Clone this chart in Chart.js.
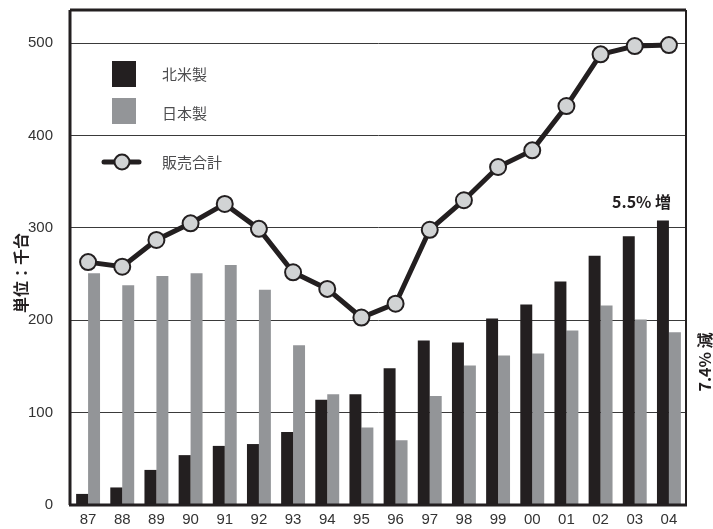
<!doctype html>
<html>
    <head>
        <meta charset="utf-8">
        <title>販売台数</title>
        <script src="https://cdn.jsdelivr.net/npm/chart.js@4.4.1/dist/chart.umd.min.js"></script>
        <style>
            html, body { margin: 0; padding: 0; background: #fff; }
            #wrap { width: 713px; height: 529px; position: relative; }
        </style>
    </head>
    <body>
        <div id="wrap">
            <canvas id="salesChart"></canvas>
        </div>

        <script>
            // years along the bottom
            var years = ['87','88','89','90','91','92','93','94','95','96','97','98','99','00','01','02','03','04'];

            // thousands of units
            var northAmerica = [12, 19, 38, 54, 64, 66, 79, 114, 120, 148, 178, 176, 202, 217, 242, 270, 291, 308];
            var japan = [251, 238, 248, 251, 260, 233, 173, 120, 84, 70, 118, 151, 162, 164, 189, 216, 201, 187];
            var totalSales = [263, 258, 287, 305, 326, 299, 252, 234, 203, 218, 298, 330, 366, 384, 432, 488, 497, 498];

            var seriesNames = ['北米製', '日本製', '販売合計'];
            var yTicks = [0, 100, 200, 300, 400, 500];

            var ink = '#231f20';
            var barGray = '#939598';
            var dotGray = '#d1d3d4';
            var numFont = "'Liberation Sans Narrow', 'Liberation Sans', sans-serif";
            var jpFont = "'Noto Sans CJK JP', sans-serif";

            // frame, legend and side notes
            var decor = {
                id: 'decor',
                beforeDatasetsDraw: function(chart) {
                    var c = chart.ctx, a = chart.chartArea;
                    c.save();
                    c.strokeStyle = ink;
                    c.lineWidth = 3;
                    c.beginPath();
                    c.moveTo(a.left - 1, a.top); c.lineTo(a.right, a.top);
                    c.moveTo(a.left - 1, a.top); c.lineTo(a.left - 1, a.bottom);
                    c.stroke();
                    c.lineWidth = 2;
                    c.beginPath();
                    c.moveTo(a.right, a.top); c.lineTo(a.right, a.bottom);
                    c.stroke();
                    c.restore();
                },
                afterDatasetsDraw: function(chart) {
                    var c = chart.ctx, a = chart.chartArea;
                    c.save();
                    c.strokeStyle = ink;
                    c.lineWidth = 3;
                    c.beginPath();
                    c.moveTo(a.left - 2, a.bottom); c.lineTo(a.right + 1, a.bottom);
                    c.stroke();

                    // legend
                    c.fillStyle = ink;
                    c.fillRect(112, 61, 24, 26);
                    c.fillStyle = barGray;
                    c.fillRect(112, 98, 24, 26);
                    c.strokeStyle = ink;
                    c.lineWidth = 5;
                    c.lineCap = 'round';
                    c.beginPath();
                    c.moveTo(104, 162); c.lineTo(139, 162);
                    c.stroke();
                    c.beginPath();
                    c.arc(122, 162, 7.5, 0, Math.PI * 2);
                    c.fillStyle = dotGray;
                    c.fill();
                    c.lineWidth = 2;
                    c.stroke();

                    c.fillStyle = '#4d4d4f';
                    c.font = '15px ' + jpFont;
                    c.textBaseline = 'middle';
                    c.textAlign = 'left';
                    c.fillText(seriesNames[0], 162, 74);
                    c.fillText(seriesNames[1], 162, 113);
                    c.fillText(seriesNames[2], 162, 162);

                    c.fillStyle = ink;
                    c.font = 'bold 16px ' + jpFont;
                    c.fillText('5.5% 増', 612, 202);

                    c.textAlign = 'center';
                    c.translate(21, 273);
                    c.rotate(-Math.PI / 2);
                    c.fillText('単位：千台', 0, 0);
                    c.restore();

                    c.save();
                    c.fillStyle = ink;
                    c.font = 'bold 16px ' + jpFont;
                    c.textAlign = 'center';
                    c.textBaseline = 'middle';
                    c.translate(705, 362);
                    c.rotate(-Math.PI / 2);
                    c.fillText('7.4% 減', 0, 0);
                    c.restore();
                }
            };

            var ctx = document.getElementById('salesChart').getContext('2d');
            var chart = new Chart(ctx, {
                type: 'bar',
                data: {
                    labels: years,
                    datasets: [{
                        type: 'line',
                        label: seriesNames[2],
                        data: totalSales,
                        borderColor: ink,
                        borderWidth: 5,
                        pointRadius: 8,
                        pointBorderWidth: 2,
                        pointBackgroundColor: dotGray,
                        pointBorderColor: ink,
                        tension: 0,
                        order: 0
                    }, {
                        label: seriesNames[0],
                        data: northAmerica,
                        backgroundColor: ink,
                        barPercentage: 1,
                        categoryPercentage: 0.7,
                        order: 1
                    }, {
                        label: seriesNames[1],
                        data: japan,
                        backgroundColor: barGray,
                        barPercentage: 1,
                        categoryPercentage: 0.7,
                        order: 1
                    }]
                },
                options: {
                    responsive: true,
                    maintainAspectRatio: false,
                    animation: false,
                    layout: { padding: { top: 10, right: 27, left: 0, bottom: 0 } },
                    plugins: {
                        legend: { display: false },
                        tooltip: { enabled: false }
                    },
                    scales: {
                        x: {
                            grid: { display: false },
                            border: { display: false },
                            ticks: {
                                color: '#333',
                                font: { family: numFont, size: 15 },
                                padding: -2,
                                maxRotation: 0
                            },
                            afterFit: function(s) {
                                s.height = 24;
                                s.paddingLeft = 0; s.paddingRight = 0;
                            }
                        },
                        y: {
                            min: 0,
                            max: 536,
                            afterBuildTicks: function(s) {
                                s.ticks = yTicks.map(function(v) { return { value: v }; });
                            },
                            grid: {
                                color: function(c) { return c.tick && c.tick.value === 0 ? 'rgba(0,0,0,0)' : '#3a3a3a'; },
                                lineWidth: 1,
                                drawTicks: false
                            },
                            border: { display: false },
                            ticks: {
                                color: '#333',
                                font: { family: numFont, size: 15 },
                                padding: 18
                            },
                            afterFit: function(s) {
                                s.width = 71;
                                s.paddingTop = 0; s.paddingBottom = 0;
                            }
                        }
                    }
                },
                plugins: [decor]
            });
        </script>
    </body>
</html>
